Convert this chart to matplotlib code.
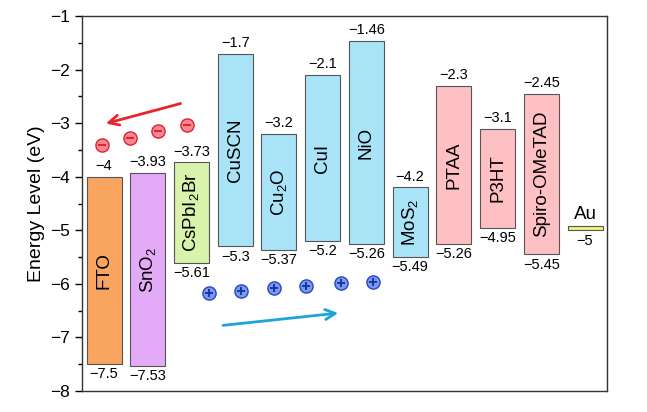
import numpy as np
import matplotlib
matplotlib.use("Agg")
import matplotlib.pyplot as plt
from matplotlib.ticker import MultipleLocator

plt.rcParams['font.family'] = ['Liberation Sans', 'DejaVu Sans']
plt.rcParams['mathtext.fontset'] = 'custom'
plt.rcParams['mathtext.rm'] = 'Liberation Sans'
plt.rcParams['mathtext.it'] = 'Liberation Sans'

# band edges (eV)
materials = ['FTO', 'SnO$_2$', 'CsPbI$_2$Br', 'CuSCN', 'Cu$_2$O', 'CuI', 'NiO',
             'MoS$_2$', 'PTAA', 'P3HT', 'Spiro-OMeTAD', 'Au']
top_vals = [-4, -3.93, -3.73, -1.7, -3.2, -2.1, -1.46, -4.2, -2.3, -3.1, -2.45, -4.92]
bottom_vals = [-7.5, -7.53, -5.61, -5.3, -5.37, -5.2, -5.26, -5.49, -5.26, -4.95, -5.45, -5.0]
top_labels = ['-4', '-3.93', '-3.73', '-1.7', '-3.2', '-2.1', '-1.46', '-4.2', '-2.3', '-3.1', '-2.45', '']
bottom_labels = ['-7.5', '-7.53', '-5.61', '-5.3', '-5.37', '-5.2', '-5.26', '-5.49', '-5.26', '-4.95', '-5.45', '-5']
colors = ['#F9A560', '#E2AAF7', '#D9F2AC', '#A9E3F8', '#A9E3F8', '#A9E3F8', '#A9E3F8',
          '#A9E3F8', '#FFC0C4', '#FFC0C4', '#FFC0C4', '#F2F07A']

# carriers (electrons and holes)
elec_x = [0.96, 1.6, 2.24, 2.9]
elec_y = [-3.41, -3.28, -3.15, -3.03]
hole_x = [3.41, 4.14, 4.89, 5.63, 6.43, 7.16]
hole_y = [-6.17, -6.13, -6.07, -6.04, -5.98, -5.96]
elec_arrow = [(2.81, -2.62), (0.98, -3.02)]
hole_arrow = [(3.66, -6.78), (6.42, -6.54)]

fig = plt.figure(figsize=(6.47, 4.12), dpi=100)
ax = fig.add_axes([0.127, 0.051, 0.811, 0.910])

x = np.arange(1, len(materials) + 1)
heights = np.array(top_vals) - np.array(bottom_vals)
ax.bar(x, heights, bottom=bottom_vals, width=0.8, color=colors,
       edgecolor='#555555', linewidth=0.8, zorder=2)

for xi, t, b, tl, bl, name in zip(x, top_vals, bottom_vals, top_labels, bottom_labels, materials):
    if tl:
        ax.text(xi, t + 0.07, tl.replace('-', '\u2212'), ha='center', va='bottom', fontsize=10.5)
    ax.text(xi, b - 0.06, bl.replace('-', '\u2212'), ha='center', va='top', fontsize=10.5)
    if name == 'Au':
        ax.text(xi, t + 0.06, name, ha='center', va='bottom', fontsize=13.5)
    else:
        ax.text(xi, (t + b) / 2, name, ha='center', va='center', rotation=90, fontsize=13.5)

# electrons
ax.plot(elec_x, elec_y, 'o', ms=9.5, mfc='#F58A92', mec='#E3202E', mew=1.0, ls='none', zorder=3)
ax.plot(elec_x, elec_y, '_', ms=6, mec='#E3202E', mew=1.4, ls='none', zorder=4)
# holes
ax.plot(hole_x, hole_y, 'o', ms=9.5, mfc='#7B9AEC', mec='#2648C4', mew=1.0, ls='none', zorder=3)
ax.plot(hole_x, hole_y, '+', ms=6, mec='#1A35A8', mew=1.4, ls='none', zorder=4)

ax.annotate('', xy=elec_arrow[1], xytext=elec_arrow[0],
            arrowprops=dict(arrowstyle='->', color='#E8232B', lw=2, mutation_scale=18))
ax.annotate('', xy=hole_arrow[1], xytext=hole_arrow[0],
            arrowprops=dict(arrowstyle='->', color='#1EA3DA', lw=2, mutation_scale=18))

ax.set_xlim(0.5, 12.5)
ax.set_ylim(-8, -1)
ax.set_xticks([])
ax.yaxis.set_major_locator(MultipleLocator(1))
ax.yaxis.set_minor_locator(MultipleLocator(0.5))
ax.tick_params(axis='y', which='major', length=5, width=1, labelsize=12.5, direction='out')
ax.tick_params(axis='y', which='minor', length=3, width=1, direction='out')
ax.set_yticklabels([f'\u2212{abs(int(v))}' for v in ax.get_yticks()])
ax.set_ylabel('Energy Level (eV)', fontsize=14, labelpad=4)
for s in ax.spines.values():
    s.set_linewidth(1.0)
    s.set_color('#333333')

fig.savefig('out.png', dpi=100)
